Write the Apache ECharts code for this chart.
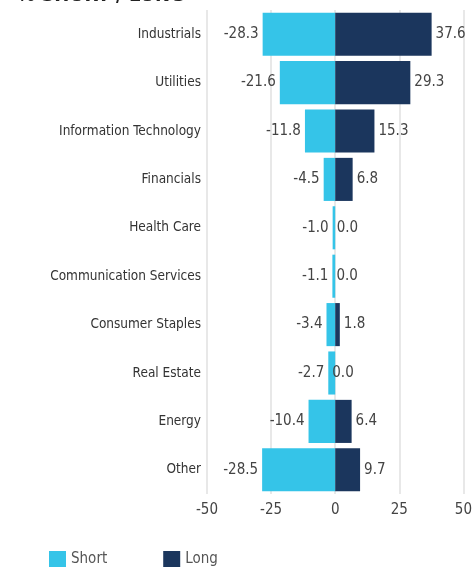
<!DOCTYPE html>
<html><head><meta charset="utf-8">
<style>html,body{margin:0;padding:0;background:#fff}#c{width:475px;height:567px}</style>
<script src="https://cdn.jsdelivr.net/npm/echarts@6/dist/echarts.min.js"></script>
</head><body><div id="c"></div>
<script>
var categories = ["Industrials","Utilities","Information Technology","Financials","Health Care","Communication Services","Consumer Staples","Real Estate","Energy","Other"];
var shortVals = [-28.3,-21.6,-11.8,-4.5,-1.0,-1.1,-3.4,-2.7,-10.4,-28.5];
var longVals = [37.6,29.3,15.3,6.8,0.0,0.0,1.8,0.0,6.4,9.7];
var xTicks = [-50,-25,0,25,50];

var FONT = '"DejaVu Sans Condensed","DejaVu Sans",sans-serif';
var chart = echarts.init(document.getElementById('c'));
chart.setOption({
  animation:false,
  graphic:[{type:'text',left:17,top:-14,style:{text:'% SHORT / LONG',font:'bold 20px '+FONT,fill:'#222'}}],
  grid:{left:207,right:8,top:10,bottom:73,containLabel:false},
  legend:{bottom:-6,left:44,itemWidth:17,itemHeight:17,itemGap:56,icon:'rect',
    textStyle:{fontFamily:FONT,fontSize:15,color:'#555'},data:['Short','Long']},
  xAxis:{type:'value',min:-50,max:50,interval:25,
    axisLine:{show:false},axisTick:{show:false},
    axisLabel:{fontFamily:FONT,fontSize:15,color:'#444',margin:9},
    splitLine:{lineStyle:{color:'#e8e8e8',width:2}}},
  yAxis:{type:'category',data:categories,inverse:true,
    axisLine:{show:false},axisTick:{show:false},
    axisLabel:{fontFamily:FONT,fontSize:13.5,color:'#333',margin:6}},
  series:[
    {name:'Short',type:'bar',stack:'a',data:shortVals,barCategoryGap:'11%',
     itemStyle:{color:'#35C4E8'},
     label:{show:true,position:'left',formatter:function(p){return p.value.toFixed(1);},fontFamily:FONT,fontSize:15,color:'#444',distance:4}},
    {name:'Long',type:'bar',stack:'a',data:longVals,barCategoryGap:'11%',
     itemStyle:{color:'#1B365D'},
     label:{show:true,position:'right',formatter:function(p){return p.value.toFixed(1);},fontFamily:FONT,fontSize:15,color:'#444',distance:4}}
  ]
});
</script></body></html>
